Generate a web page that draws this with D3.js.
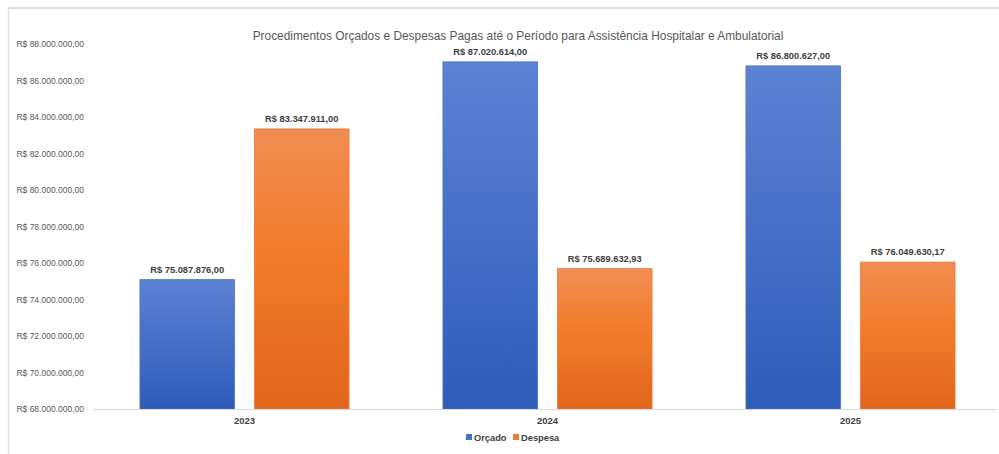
<!DOCTYPE html>
<html>
<head>
<meta charset="utf-8">
<script src="https://cdn.jsdelivr.net/npm/d3@7"></script>
<style>
  html, body { margin: 0; padding: 0; background: #fff; }
  svg { display: block; }
  text { font-family: "Liberation Sans Narrow", "Liberation Sans", sans-serif; }
</style>
</head>
<body>
<svg id="chart" width="999" height="454"></svg>
<script>
// Chart data
const years = ["2023", "2024", "2025"];
const seriesNames = ["Orçado", "Despesa"];
const orcado = [75087876.00, 87020614.00, 86800627.00];
const despesa = [83347911.00, 75689632.93, 76049630.17];
const yTicks = [68000000, 70000000, 72000000, 74000000, 76000000, 78000000,
                80000000, 82000000, 84000000, 86000000, 88000000];
const titleText = "Procedimentos Orçados e Despesas Pagas até o Período para Assistência Hospitalar e Ambulatorial";

const seriesValues = [orcado, despesa];

const svg = d3.select("#chart");
const W = 999, H = 454;

// Chart frame
svg.append("line").attr("x1", 8).attr("x2", W).attr("y1", 8).attr("y2", 8)
  .attr("stroke", "#dedede").attr("stroke-width", 2);
svg.append("line").attr("x1", 8.5).attr("x2", 8.5).attr("y1", 8).attr("y2", H)
  .attr("stroke", "#dedede").attr("stroke-width", 1.5);

// Brazilian currency formatting
const ptBR = d3.formatLocale({ decimal: ",", thousands: ".", grouping: [3], currency: ["R$ ", ""] });
const fmt = ptBR.format("$,.2f");

// Scales
const x0 = d3.scaleBand().domain(years).range([93, 1002]).padding(0);
const x1 = d3.scaleBand().domain(seriesNames).range([0, x0.bandwidth()])
  .paddingInner(0.174).paddingOuter(0.41);
const y = d3.scaleLinear().domain([68000000, 88000000]).range([409, 44]);

// Gradients for bars
const defs = svg.append("defs");
const gradStops = {
  "Orçado": [["0%", "#5c82d3"], ["100%", "#2d5cb9"]],
  "Despesa": [["0%", "#f18d53"], ["45%", "#f27b2b"], ["100%", "#e0661b"]]
};
seriesNames.forEach((s, i) => {
  const g = defs.append("linearGradient").attr("id", "grad" + i)
    .attr("x1", 0).attr("y1", 0).attr("x2", 0).attr("y2", 1);
  gradStops[s].forEach(([o, c]) => g.append("stop").attr("offset", o).attr("stop-color", c));
});
const edgeColors = ["#4a70c4", "#e77a3a"];
const legendColors = ["#4472c4", "#ed7d31"];

// Y axis labels
const yAxis = d3.axisLeft(y).tickValues(yTicks).tickFormat(fmt).tickSize(0).tickPadding(0);
const gy = svg.append("g").attr("transform", "translate(84,0)").call(yAxis);
gy.select(".domain").remove();
gy.selectAll("text").attr("fill", "#595959").style("font-size", "8.5px")
  .style("font-family", "'Liberation Sans Narrow', sans-serif");

// Title
svg.append("text").attr("x", 518).attr("y", 40).attr("text-anchor", "middle")
  .attr("fill", "#595959").style("font-size", "11.9px").text(titleText);

// Bars
const groups = svg.append("g").selectAll("g").data(years).join("g")
  .attr("transform", d => `translate(${x0(d)},0)`);

groups.selectAll("rect")
  .data((d, yi) => seriesNames.map((s, si) => ({ s, si, v: seriesValues[si][yi] })))
  .join("rect")
  .attr("x", d => x1(d.s))
  .attr("width", x1.bandwidth())
  .attr("y", d => y(d.v))
  .attr("height", d => y(68000000) - y(d.v))
  .attr("fill", d => `url(#grad${d.si})`)
  .attr("stroke", d => edgeColors[d.si])
  .attr("stroke-width", 0.8);

// Value labels
groups.selectAll("text.val")
  .data((d, yi) => seriesNames.map((s, si) => ({ s, si, v: seriesValues[si][yi] })))
  .join("text")
  .attr("class", "val")
  .attr("x", d => x1(d.s) + x1.bandwidth() / 2)
  .attr("y", d => y(d.v) - 7)
  .attr("text-anchor", "middle")
  .attr("fill", "#404040")
  .style("font-size", "9.3px").style("font-weight", "bold")
  .text(d => fmt(d.v));

// X axis
const xAxis = d3.axisBottom(x0).tickSize(0).tickPadding(8);
const gx = svg.append("g").attr("transform", "translate(0,409)").call(xAxis);
gx.select(".domain").attr("stroke", "#d9d9d9").attr("d", "M93,0.5H997");
gx.selectAll("text").attr("fill", "#404040").style("font-size", "9.5px").style("font-weight", "bold")
  .style("font-family", "'Liberation Sans Narrow', sans-serif");

// Legend
const legend = svg.append("g").attr("transform", "translate(466,438)");
const legendOffsets = [0, 47];
seriesNames.forEach((s, i) => {
  const lg = legend.append("g").attr("transform", `translate(${legendOffsets[i]},0)`);
  lg.append("rect").attr("x", 0).attr("y", -4).attr("width", 6).attr("height", 6).attr("fill", legendColors[i]);
  lg.append("text").attr("x", 8).attr("y", 2.5).attr("fill", "#404040")
    .style("font-size", "9.3px").style("font-weight", "bold").text(s);
});
</script>
</body>
</html>
